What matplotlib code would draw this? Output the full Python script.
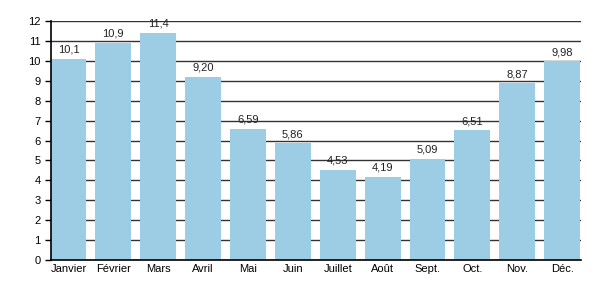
import matplotlib
matplotlib.use("Agg")
import matplotlib.pyplot as plt

months = ["Janvier", "Février", "Mars", "Avril", "Mai", "Juin", "Juillet", "Août", "Sept.", "Oct.", "Nov.", "Déc."]
values = [10.1, 10.9, 11.4, 9.20, 6.59, 5.86, 4.53, 4.19, 5.09, 6.51, 8.87, 9.98]
labels = ["10,1", "10,9", "11,4", "9,20", "6,59", "5,86", "4,53", "4,19", "5,09", "6,51", "8,87", "9,98"]
yticks = list(range(0, 13))

plt.rcParams['font.family'] = ['Liberation Sans', 'DejaVu Sans']

fig = plt.figure(figsize=(6, 3), dpi=100)
ax = fig.add_axes([0.0842, 0.133, 0.884, 0.797])

x = range(len(months))
bars = ax.bar(x, values, width=0.8, color="#9ccde4", zorder=2)
for xi, v, lab in zip(x, values, labels):
    ax.text(xi, v + 0.2, lab, ha="center", va="bottom", fontsize=8, color="#222222", zorder=3)

ax.set_xlim(-0.4, 11.42)
ax.set_ylim(0, 12)
ax.set_yticks(yticks)
ax.set_yticklabels([str(t) for t in yticks], fontsize=8)
ax.set_xticks(list(x))
ax.set_xticklabels(months, fontsize=8)
ax.tick_params(axis="x", length=0, pad=3)
ax.tick_params(axis="y", length=4, width=1, pad=3)
ax.yaxis.grid(True, color="#333333", linewidth=1, zorder=1)
ax.set_axisbelow(True)
for s in ["top", "right"]:
    ax.spines[s].set_visible(False)
ax.spines["left"].set_linewidth(1.2)
ax.spines["bottom"].set_linewidth(1.2)

fig.savefig("out.png", dpi=100)
